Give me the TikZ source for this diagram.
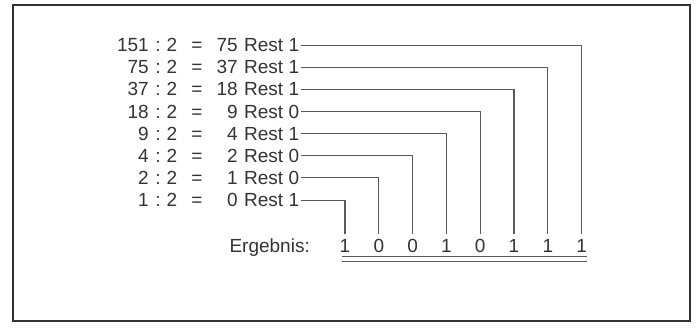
\documentclass[tikz,border=0pt]{standalone}
\usepackage{fontspec}
\setmainfont{Liberation Sans}
\begin{document}
\begin{tikzpicture}[x=1pt,y=-1pt,
  txt/.style={inner sep=0pt,text=black!80,font=\fontsize{19}{21}\selectfont},
  conn/.style={draw=black!65,line width=1.1pt},
  frame/.style={draw=black!80,line width=1.8pt}]
\useasboundingbox (0,0) rectangle (696,331);
\draw[frame] (13,5) rectangle (690,321);
% rows: dividend, quotient, remainder
\foreach \i/\dv/\q/\r in {1/151/75/1,2/75/37/1,3/37/18/1,4/18/9/0,5/9/4/1,6/4/2/0,7/2/1/0,8/1/0/1}{
  \pgfmathsetmacro{\yy}{45+22.1*(\i-1)+6.8}
  \node[txt,anchor=base east] (dv\i) at (149,\yy) {\dv};
  \node[txt,anchor=base] (c\i) at (158,\yy) {:};
  \node[txt,anchor=base] (t\i) at (172,\yy) {2};
  \node[txt,anchor=base] (e\i) at (197,\yy) {=};
  \node[txt,anchor=base east] (q\i) at (238,\yy) {\q};
  \node[txt,anchor=base west] (r\i) at (244,\yy) {Rest \r};
}
% result
\node[txt,anchor=base east] (erg) at (310,252) {Ergebnis:};
\foreach \k/\d in {1/1,2/0,3/0,4/1,5/0,6/1,7/1,8/1}{
  \node[txt,anchor=base] (d\k) at ({345+33.8*(\k-1)},252) {\d};
}
% connectors
\foreach \i/\k in {1/8,2/7,3/6,4/5,5/4,6/3,7/2,8/1}{
  \draw[conn,shorten <=2pt,shorten >=5pt] (r\i.east) -| (d\k.north);
}
% double underline
\coordinate (ul) at (342,261.5);
\coordinate (ur) at (587,261.5);
\draw[conn] (ul) -- (ur);
\draw[conn] ([yshift=5pt]ul) -- ([yshift=5pt]ur);
\end{tikzpicture}
\end{document}
